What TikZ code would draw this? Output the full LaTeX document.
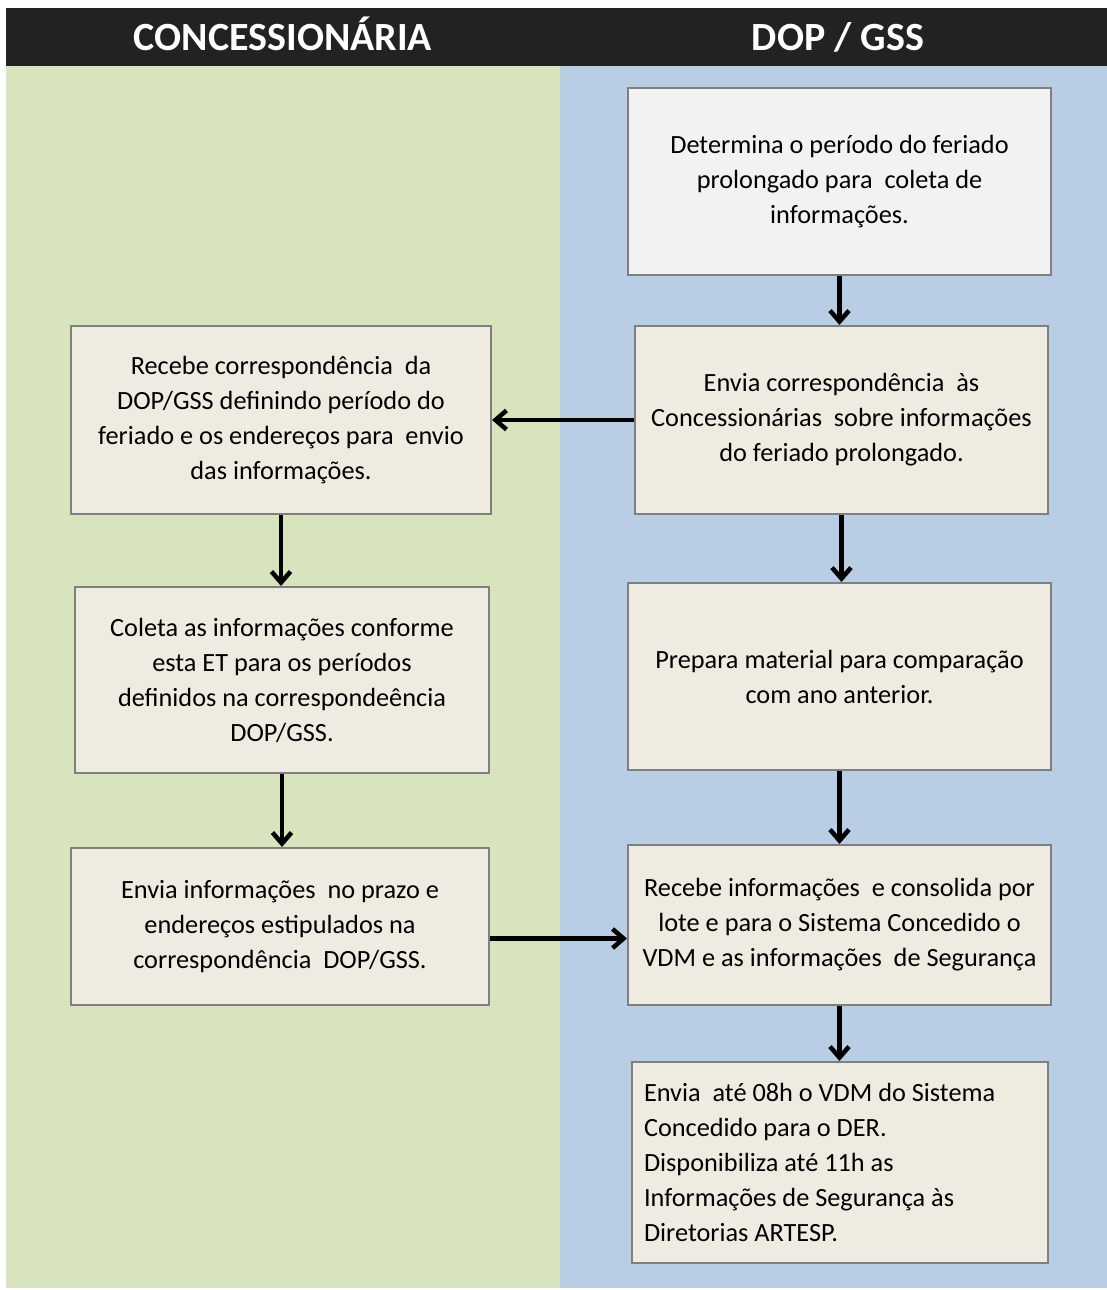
\documentclass[tikz,border=0pt]{standalone}
\usepackage{fontspec}
\setmainfont{Carlito}
\usetikzlibrary{arrows.meta,calc}
\definecolor{hdr}{RGB}{34,34,34}
\definecolor{lgreen}{RGB}{215,228,189}
\definecolor{lblue}{RGB}{185,205,229}
\definecolor{boxfill}{RGB}{238,236,225}
\definecolor{boxfillb}{RGB}{242,242,242}
\definecolor{boxline}{RGB}{127,127,127}
\tikzset{
  stepbox/.style={draw=boxline, line width=2pt, fill=boxfill, inner sep=0pt,
    align=center, font=\fontsize{26.3}{35}\selectfont, anchor=center},
  arr/.style={line width=4.5pt, -{Straight Barb[length=11pt,width=19pt]}},
  hdrtext/.style={text=white, font=\fontsize{40}{44}\selectfont\bfseries, anchor=base, inner sep=0pt},
}
\begin{document}
\begin{tikzpicture}[x=1pt,y=-1pt]
\useasboundingbox (0,0) rectangle (1107,1290);
\fill[white] (0,0) rectangle (1107,1290);
\fill[hdr] (6,8) rectangle (1107,66);
\fill[lgreen] (6,66) rectangle (560,1288);
\fill[lblue] (560,66) rectangle (1107,1288);
\node[hdrtext] (h1) at (283,51) {CONCESSIONÁRIA};
\node[hdrtext] (h2) at (838,51) {DOP / GSS};

\node[stepbox, fill=boxfillb, minimum width=423pt, minimum height=187pt] (b1) at (839.5,181.5)
  {Determina o período do feriado\\prolongado para\ \ coleta de\\informações.};
\node[stepbox, minimum width=413pt, minimum height=188pt] (b2) at (841.5,420)
  {Envia correspondência\ \ às\\Concessionárias\ \ sobre informações\\do feriado prolongado.};
\node[stepbox, minimum width=420pt, minimum height=188pt] (l1) at (281,420)
  {Recebe correspondência\ \ da\\DOP/GSS definindo período do\\feriado e os endereços para\ \ envio\\das informações.};
\node[stepbox, minimum width=414pt, minimum height=186pt] (l2) at (282,680)
  {Coleta as informações conforme\\esta ET para os períodos\\definidos na correspondeência\\DOP/GSS.};
\node[stepbox, minimum width=418pt, minimum height=157pt] (l3) at (280,926.5)
  {Envia informações\ \ no prazo e\\endereços estipulados na\\correspondência\ \ DOP/GSS.};
\node[stepbox, minimum width=423pt, minimum height=187pt] (b3) at (839.5,676.5)
  {Prepara material para comparação\\com ano anterior.};
\node[stepbox, minimum width=423pt, minimum height=160pt] (b4) at (839.5,925)
  {Recebe informações\ \ e consolida por\\lote e para o Sistema Concedido o\\VDM e as informações\ \ de Segurança};
\node[stepbox, align=flush left, minimum width=416pt, minimum height=201pt, text width=392pt] (b5) at (840,1162.5)
  {Envia\ \ até 08h o VDM do Sistema\\Concedido para o DER.\\Disponibiliza até 11h as\\Informações de Segurança às\\Diretorias ARTESP.};

\draw[arr] (b1.south) -- (b1.south |- b2.north);
\draw[arr] (b2.west) -- (b2.west -| l1.east);
\draw[arr] (l1.south) -- (l1.south |- l2.north);
\draw[arr] (b2.south) -- (b2.south |- b3.north);
\draw[arr] (l2.south) -- (l2.south |- l3.north);
\draw[arr] ([yshift=-12pt]l3.east) -- ([yshift=-12pt]l3.east -| b4.west);
\draw[arr] (b3.south) -- (b3.south |- b4.north);
\draw[arr] (b4.south) -- (b4.south |- b5.north);
\end{tikzpicture}
\end{document}
